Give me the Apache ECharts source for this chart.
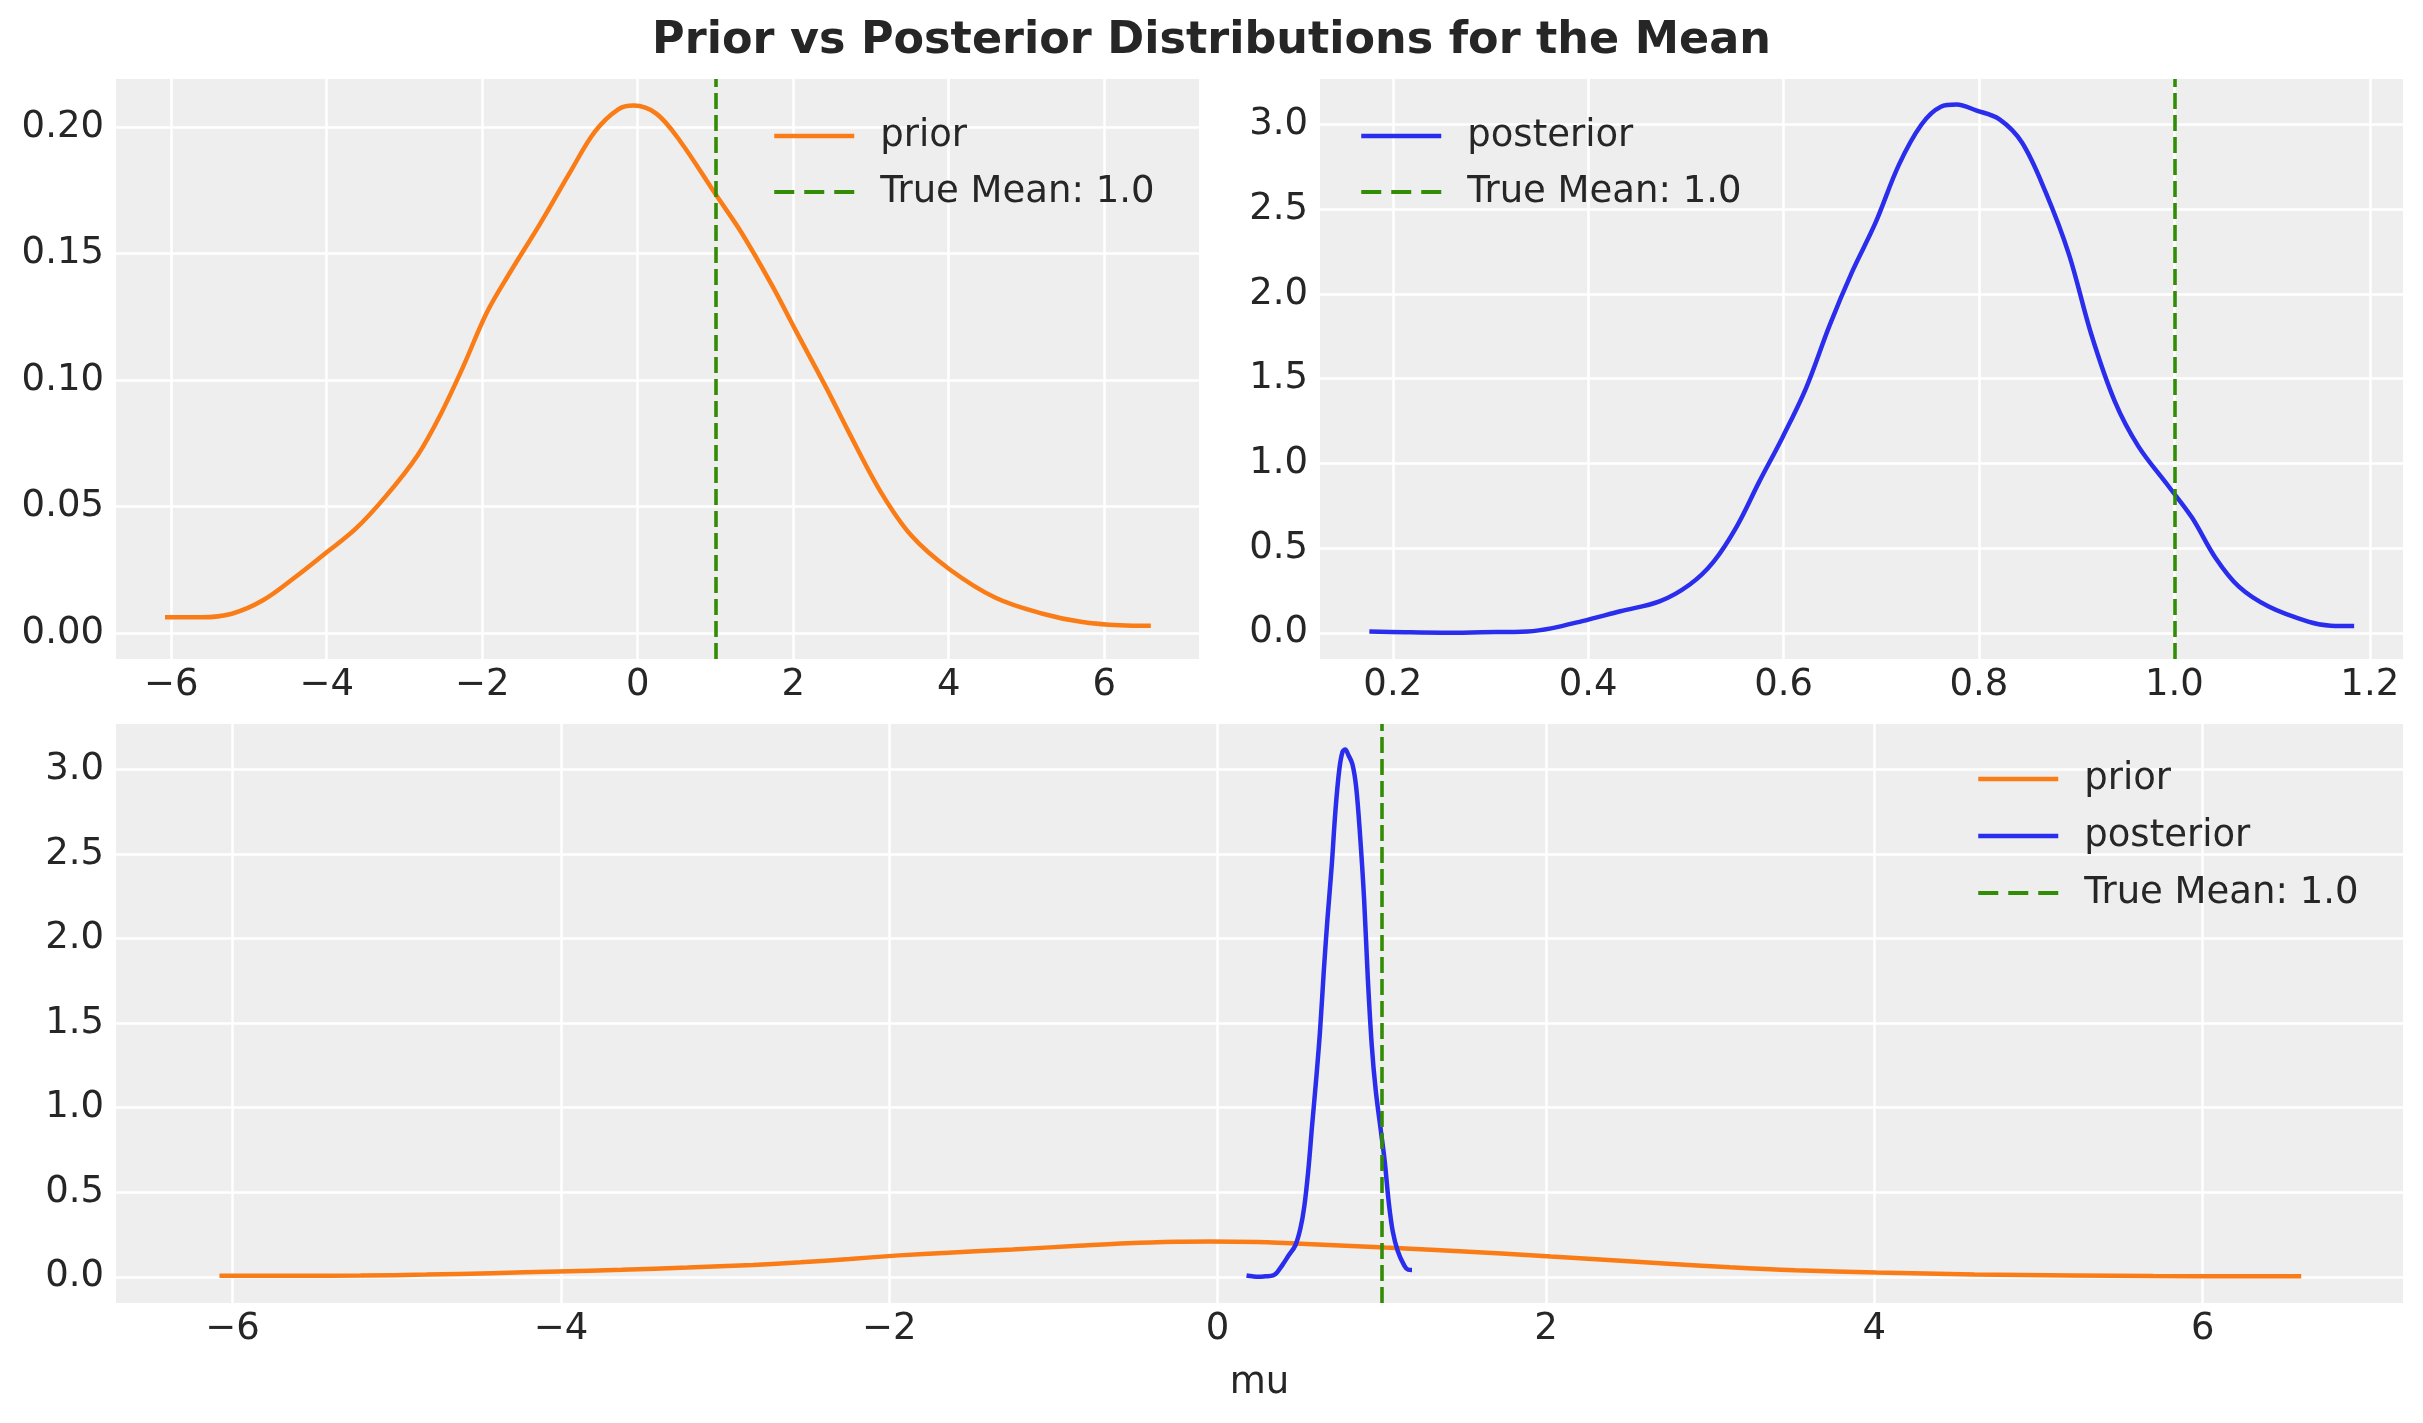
<!DOCTYPE html>
<html>
<head>
<meta charset="utf-8">
<title>Prior vs Posterior Distributions for the Mean</title>
<script src="https://cdn.jsdelivr.net/npm/echarts@6/dist/echarts.min.js"></script>
<style>
  html, body {margin: 0; padding: 0; background: #ffffff;}
  #chart {width: 2423px; height: 1423px;}
</style>
</head>
<body>
<div id="chart"></div>
<script>
// KDE of the prior samples for mu
const priorX = [-6.08, -5.61, -5.22, -4.82, -4.42, -4.02, -3.63, -3.23, -2.83, -2.54, -2.24, -1.94, -1.64, -1.25, -0.85, -0.55, -0.25, -0.05, 0.24, 0.54, 1.02, 1.33, 1.73, 2.03, 2.43, 2.72, 3.12, 3.52, 4.01, 4.61, 5.21, 5.70, 6.20, 6.60]
const priorY = [0.0062, 0.0062, 0.0076, 0.0129, 0.0217, 0.0314, 0.0411, 0.0544, 0.0703, 0.0861, 0.1056, 0.1267, 0.1426, 0.162, 0.1832, 0.1982, 0.207, 0.2085, 0.2053, 0.1947, 0.1726, 0.1585, 0.1373, 0.1197, 0.0967, 0.0791, 0.0561, 0.0385, 0.0252, 0.0138, 0.0076, 0.0044, 0.003, 0.0028]

// KDE of the posterior samples for mu
const posteriorX = [0.176, 0.212, 0.251, 0.291, 0.338, 0.362, 0.394, 0.433, 0.473, 0.504, 0.528, 0.552, 0.575, 0.599, 0.623, 0.647, 0.670, 0.694, 0.718, 0.741, 0.761, 0.777, 0.797, 0.821, 0.844, 0.868, 0.892, 0.915, 0.939, 0.963, 0.994, 1.018, 1.042, 1.066, 1.097, 1.137, 1.160, 1.184]
const posteriorY = [0.008, 0.003, 0.0, 0.003, 0.008, 0.026, 0.069, 0.127, 0.185, 0.285, 0.417, 0.627, 0.891, 1.155, 1.445, 1.814, 2.13, 2.42, 2.763, 3.0, 3.106, 3.119, 3.085, 3.032, 2.895, 2.605, 2.236, 1.761, 1.366, 1.102, 0.865, 0.68, 0.443, 0.272, 0.153, 0.066, 0.042, 0.04]

const trueMean = 1.0
const trueMeanName = "True Mean: 1.0"

// tick labels
const muTicks = [-6, -4, -2, 0, 2, 4, 6]
const priorDensityTicks = [0, 0.05, 0.1, 0.15, 0.2]
const posteriorMuTicks = [0.2, 0.4, 0.6, 0.8, 1.0, 1.2]
const posteriorDensityTicks = [0, 0.5, 1, 1.5, 2, 2.5, 3]

// axis limits as drawn in the figure
const muRange = [-6.71, 7.22]
const priorDensityRange = [-0.0103, 0.219]
const posteriorMuRange = [0.1255, 1.234]
const posteriorDensityRange = [-0.155, 3.27]

const ORANGE = "#fa7c17"
const BLUE = "#2a2eec"
const GREEN = "#328c06"
const TEXT = "#262626"
const FONT = "DejaVu Sans"

const zip = (xs, ys) => xs.map((x, i) => [x, ys[i]])
const minus = s => String(s).replace("-", "\u2212")

const valueAxis = (gridIndex, range, ticks, fmt, margin, extra) => ({
  type: "value",
  gridIndex,
  min: range[0],
  max: range[1],
  axisLine: {show: false},
  axisTick: {show: false, customValues: ticks},
  axisLabel: {
    customValues: ticks,
    formatter: fmt,
    margin,
    color: TEXT,
    fontFamily: FONT,
    fontSize: 37,
  },
  splitLine: {show: true, lineStyle: {color: "#ffffff", width: 2.5}},
  ...extra,
})

const curve = (name, data, color, idx) => ({
  name,
  type: "line",
  xAxisIndex: idx,
  yAxisIndex: idx,
  data,
  smooth: 0.35,
  symbol: "none",
  color,
  lineStyle: {color, width: 4.5},
  z: 3,
})

const meanLine = idx => ({
  name: trueMeanName,
  type: "line",
  xAxisIndex: idx,
  yAxisIndex: idx,
  data: [],
  symbol: "none",
  color: GREEN,
  lineStyle: {color: GREEN, width: 3.6, type: [16, 6]},
  markLine: {
    silent: true,
    symbol: ["none", "none"],
    label: {show: false},
    lineStyle: {color: GREEN, width: 3.6, type: [16, 6]},
    data: [{xAxis: trueMean}],
  },
  z: 4,
})

const legendItem = name =>
  name === trueMeanName
    ? {name, lineStyle: {width: 4, type: [20, 10]}}
    : {name}

const legend = (left, top, names, gap) => ({
  orient: "vertical",
  left,
  top,
  data: names.map(legendItem),
  itemWidth: 80,
  itemHeight: 14,
  itemGap: gap,
  itemStyle: {opacity: 0},
  lineStyle: {width: 4.5},
  textStyle: {
    color: TEXT,
    fontFamily: FONT,
    fontSize: 37,
    lineHeight: 40,
    padding: [0, 0, 0, 21],
  },
})

const chart = echarts.init(document.getElementById("chart"))

chart.setOption({
  animation: false,
  backgroundColor: "#ffffff",
  title: {
    text: "Prior vs Posterior Distributions for the Mean",
    left: "center",
    top: 14,
    textStyle: {color: TEXT, fontFamily: FONT, fontSize: 44.5, fontWeight: "bold"},
  },
  grid: [
    {left: 116, top: 79, width: 1083, height: 580, show: true, backgroundColor: "#eeeeee", borderWidth: 0},
    {left: 1320, top: 79, width: 1083, height: 580, show: true, backgroundColor: "#eeeeee", borderWidth: 0},
    {left: 116, top: 724, width: 2287, height: 579, show: true, backgroundColor: "#eeeeee", borderWidth: 0},
  ],
  xAxis: [
    valueAxis(0, muRange, muTicks, v => minus(v), 8),
    valueAxis(1, posteriorMuRange, posteriorMuTicks, v => v.toFixed(1), 8),
    valueAxis(2, muRange, muTicks, v => minus(v), 8, {
      name: "mu",
      nameLocation: "middle",
      nameGap: 62,
      nameTextStyle: {color: TEXT, fontFamily: FONT, fontSize: 37},
    }),
  ],
  yAxis: [
    valueAxis(0, priorDensityRange, priorDensityTicks, v => v.toFixed(2), 12),
    valueAxis(1, posteriorDensityRange, posteriorDensityTicks, v => v.toFixed(1), 12),
    valueAxis(2, posteriorDensityRange, posteriorDensityTicks, v => v.toFixed(1), 12),
  ],
  legend: [
    legend(767, 111, ["prior", trueMeanName], 16),
    legend(1354, 111, ["posterior", trueMeanName], 16),
    legend(1971, 754, ["prior", "posterior", trueMeanName], 17),
  ],
  series: [
    curve("prior", zip(priorX, priorY), ORANGE, 0),
    meanLine(0),
    curve("posterior", zip(posteriorX, posteriorY), BLUE, 1),
    meanLine(1),
    curve("prior", zip(priorX, priorY), ORANGE, 2),
    curve("posterior", zip(posteriorX, posteriorY), BLUE, 2),
    meanLine(2),
  ],
})
</script>
</body>
</html>
